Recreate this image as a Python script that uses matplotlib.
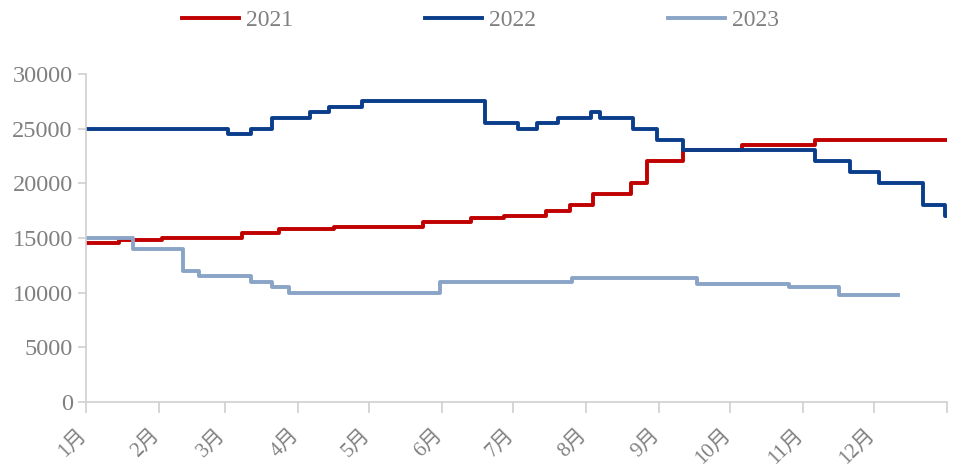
import matplotlib
matplotlib.use("Agg")
import matplotlib.pyplot as plt
from matplotlib.transforms import ScaledTranslation

# day-of-year where each price level starts, and the level held from that day
days_2021 = [0, 14, 32, 66, 82, 105, 143, 163, 177, 195, 205, 215, 231, 238, 253, 278, 309, 365]
price_2021 = [14500, 14800, 15000, 15500, 15800, 16000, 16500, 16800, 17000, 17500, 18000,
              19000, 20000, 22000, 23000, 23500, 24000, 24000]

days_2022 = [0, 60, 70, 79, 95, 103, 117, 169, 183, 191, 200, 214, 218, 232, 242, 253,
             309, 324, 336, 355, 364, 365]
price_2022 = [25000, 24500, 25000, 26000, 26500, 27000, 27500, 25500, 25000, 25500, 26000,
              26500, 26000, 25000, 24000, 23000, 22000, 21000, 20000, 18000, 17000, 17000]

days_2023 = [0, 20, 41, 48, 70, 79, 86, 150, 206, 259, 298, 319, 344]
price_2023 = [15000, 14000, 12000, 11500, 11000, 10500, 10000, 11000, 11300, 10800, 10500,
              9800, 9800]

month_starts = [0, 31, 59, 90, 120, 151, 181, 212, 243, 273, 304, 334, 365]
month_labels = [f"{m}月" for m in range(1, 13)] + [""]

fonts = ["Liberation Serif", "Noto Sans CJK SC", "DejaVu Sans"]
plt.rcParams["font.family"] = fonts
grey = "#808080"
axis_col = "#D0D0D0"

fig = plt.figure(figsize=(9.57, 4.68), dpi=100)
ax = fig.add_axes([0.0899, 0.141, 0.8997, 0.701])

ax.plot(days_2021, price_2021, drawstyle="steps-post", color="#C00000", lw=2.8, label="2021")
ax.plot(days_2022, price_2022, drawstyle="steps-post", color="#0A3D8A", lw=2.8, label="2022")
ax.plot(days_2023, price_2023, drawstyle="steps-post", color="#8AA4C8", lw=2.8, label="2023")

ax.set_xlim(0, 365)
ax.set_ylim(0, 30000)
ax.set_yticks(range(0, 30001, 5000))
ax.set_xticks(month_starts)
ax.set_xticklabels(month_labels, rotation=45, ha="right", rotation_mode="anchor")

for side in ("top", "right"):
    ax.spines[side].set_visible(False)
for side in ("left", "bottom"):
    ax.spines[side].set_color(axis_col)
    ax.spines[side].set_linewidth(1.2)

ax.tick_params(axis="y", colors=axis_col, labelcolor=grey, labelsize=17.5, length=6, width=1.2)
ax.tick_params(axis="x", colors=axis_col, labelcolor=grey, labelsize=15, length=8, width=1.2,
               pad=9)

# pull the slanted month labels left so their ends sit under the ticks
shift = ScaledTranslation(-0.09, 0, fig.dpi_scale_trans)
for lbl in ax.get_xticklabels():
    lbl.set_transform(lbl.get_transform() + shift)

fig.legend(loc="upper center", bbox_to_anchor=(0.502, 1.025), ncol=3, frameon=False,
           fontsize=17, labelcolor=grey, handlelength=2.4, handletextpad=0.3,
           columnspacing=5.6)

fig.savefig("out.png", dpi=100)
